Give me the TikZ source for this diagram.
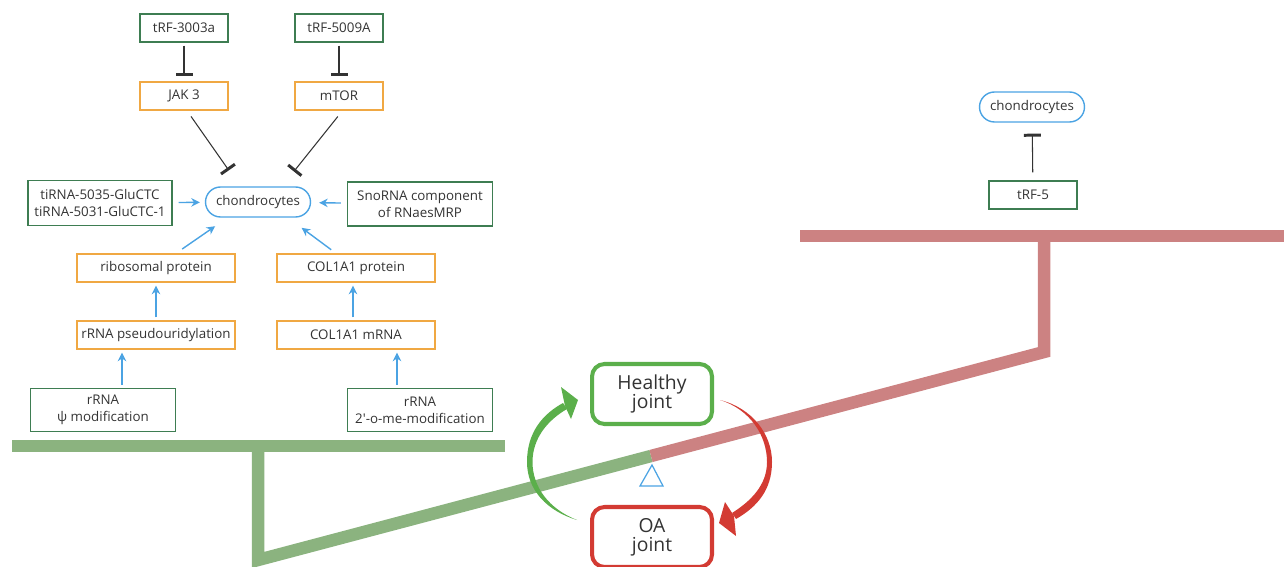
\documentclass[tikz,border=0pt]{standalone}
\usepackage{fontspec}
\setmainfont{Open Sans}
\usetikzlibrary{arrows.meta}
\definecolor{boxgreen}{RGB}{62,125,82}
\definecolor{boxorange}{RGB}{240,168,67}
\definecolor{cellblue}{RGB}{75,163,227}
\definecolor{inkgray}{RGB}{51,51,51}
\definecolor{beamgreen}{RGB}{139,179,127}
\definecolor{beamred}{RGB}{204,130,130}
\definecolor{okgreen}{RGB}{91,175,75}
\definecolor{oared}{RGB}{211,59,51}

\tikzset{
  gbox/.style={draw=boxgreen, line width=0.8pt, minimum width=1.76cm, minimum height=0.56cm,
    inner sep=1pt, align=center, text=inkgray, font=\fontsize{7.6}{9.6}\selectfont},
  obox/.style={gbox, draw=boxorange},
  cell/.style={gbox, draw=cellblue, rounded corners=0.3cm, minimum width=2.1cm, minimum height=0.6cm},
  jointbox/.style={line width=2.3pt, rounded corners=0.25cm, minimum width=2.4cm, minimum height=1.2cm,
    align=center, text=inkgray, font=\fontsize{11}{11}\selectfont},
  inhib/.style={draw=inkgray, line width=0.6pt, -{Bar[width=0.34cm, line width=1.7pt]}},
  act/.style={draw=cellblue, line width=0.8pt, -{Stealth[length=1.7mm, width=1.7mm]}},
  beam/.style={line width=0.25cm, line join=miter}
}

\begin{document}
\begin{tikzpicture}[x=0.02cm, y=-0.02cm]
\useasboundingbox (0,0) rectangle (1284,567);
% Seesaw
\draw[beam, beamgreen] (12,446) -- (505,446);
\draw[beam, beamgreen] (258,446) -- (258,560) -- (651,456);
\draw[beam, beamred] (651,456) -- (1044,352) -- (1044,236);
\draw[beam, beamred] (800,236) -- (1284,236);
\draw[cellblue, line width=0.7pt] (652,465) -- (640,486) -- (663,486) -- cycle;
% Left side: protective
\node[gbox] (trfa) at (184,28) {tRF-3003a};
\node[gbox] (trfb) at (339,28) {tRF-5009A};
\node[obox] (jak) at (184,96) {JAK 3};
\node[obox] (mtor) at (339,96) {mTOR};
\node[cell] (chon) at (258,202) {chondrocytes};
\node[gbox, minimum width=2.88cm, minimum height=0.9cm] (tirna) at (100,203)
  {tiRNA-5035-GluCTC\\tiRNA-5031-GluCTC-1};
\node[gbox, minimum width=2.9cm, minimum height=0.88cm] (sno) at (420,204)
  {SnoRNA component\\of RNaesMRP};
\node[obox, minimum width=3.16cm] (ribo) at (156,268) {ribosomal protein};
\node[obox, minimum width=3.16cm] (colp) at (356,268) {COL1A1 protein};
\node[obox, minimum width=3.16cm] (pseudo) at (156,335) {rRNA pseudouridylation};
\node[obox, minimum width=3.16cm] (colm) at (356,335) {COL1A1 mRNA};
\node[gbox, minimum width=2.9cm, minimum height=0.86cm] (psi) at (103,410) {rRNA\\ψ modification};
\node[gbox, minimum width=2.9cm, minimum height=0.86cm] (ome) at (420,410) {rRNA\\2′-o-me-modification};

\draw[inhib, shorten <=0.06cm, shorten >=0.1cm] (trfa) -- (jak);
\draw[inhib, shorten <=0.06cm, shorten >=0.1cm] (trfb) -- (mtor);
\draw[inhib, shorten <=0.14cm, shorten >=0.39cm] ([xshift=0.06cm]jak.south) -- ([xshift=-0.36cm]chon.north);
\draw[inhib, shorten <=0.15cm, shorten >=0.38cm] ([xshift=0.07cm]mtor.south) -- ([xshift=0.48cm]chon.north);
\draw[act, shorten <=0.12cm, shorten >=0.1cm] (tirna) -- (chon);
\draw[act, shorten <=0.12cm, shorten >=0.16cm] (sno) -- (chon);
\draw[act, shorten <=0.15cm, shorten >=0.3cm] ([xshift=0.4cm]ribo.north) -- ([xshift=-0.61cm]chon.south);
\draw[act, shorten <=0.12cm, shorten >=0.34cm] ([xshift=-0.4cm]colp.north) -- ([xshift=0.6cm]chon.south);
\draw[act, shorten <=0.06cm, shorten >=0.06cm] (pseudo) -- (ribo);
\draw[act, shorten <=0.06cm, shorten >=0.06cm] ([xshift=-0.06cm]colm.north) -- ([xshift=-0.06cm]colp.south);
\draw[act, shorten <=0.06cm, shorten >=0.06cm] ([xshift=0.38cm]psi.north) -- ([xshift=0.38cm]psi.north |- pseudo.south);
\draw[act, shorten <=0.06cm, shorten >=0.06cm] ([xshift=-0.46cm]ome.north) -- ([xshift=-0.46cm]ome.north |- colm.south);
% Right side: damaging
\node[cell] (chonb) at (1032,107) {chondrocytes};
\node[gbox] (trf5) at (1033,195) {tRF-5};
\draw[inhib, shorten <=0.16cm, shorten >=0.22cm] (trf5) -- (chonb);
% Joint states
\node[jointbox, draw=okgreen] (healthy) at (652,394) {Healthy\\joint};
\node[jointbox, draw=oared] (oa) at (652,537) {OA\\joint};
\fill[okgreen] (577,520) .. controls (547,511) and (527,490) .. (527,462)
  .. controls (527,432) and (543,414) .. (563,403) -- (567,409)
  .. controls (548,420) and (532.5,438) .. (532.5,462)
  .. controls (532.5,487) and (549,509) .. (577,520) -- cycle;
\fill[okgreen] (578,400) -- (561,387) -- (565,406) -- (571,419) -- cycle;
\fill[oared] (720,400) .. controls (752,408) and (772,434) .. (772,462)
  .. controls (772,490) and (757,507) .. (736,519) -- (732,513)
  .. controls (751,501) and (767,485) .. (767,462)
  .. controls (767,436) and (750.5,409.5) .. (720,400) -- cycle;
\fill[oared] (719,523) -- (725,502) -- (734,516) -- (736,536) -- cycle;
\end{tikzpicture}
\end{document}
